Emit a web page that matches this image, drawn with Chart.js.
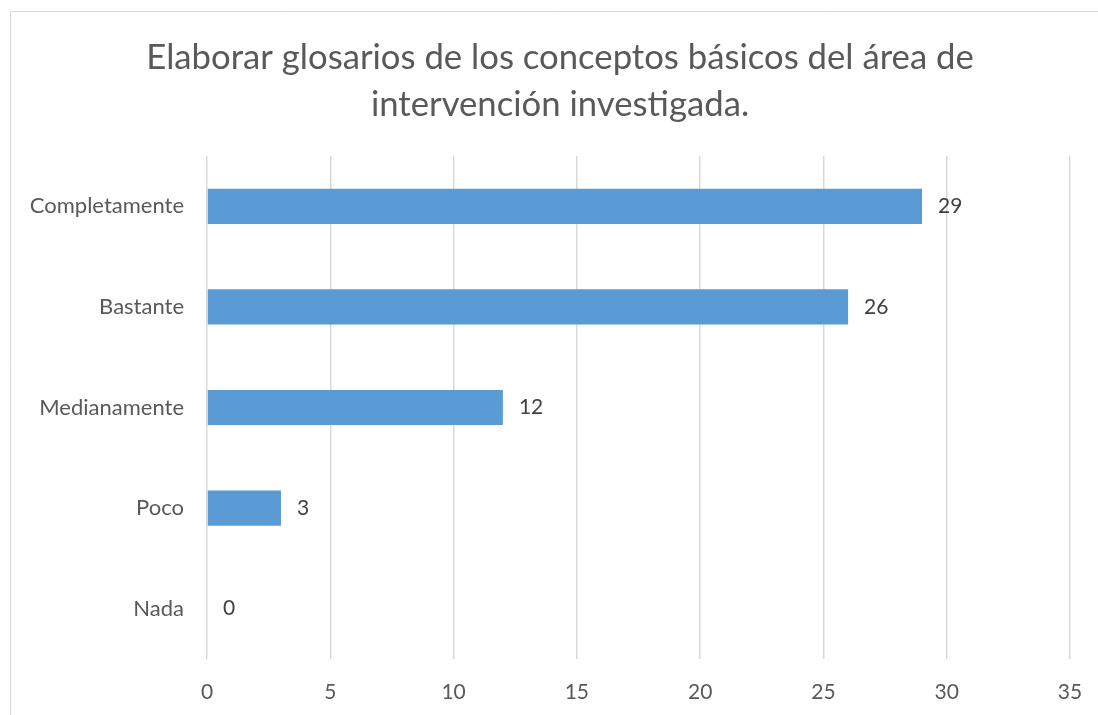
<!DOCTYPE html>
<html><head><meta charset="utf-8">
<script src="https://cdn.jsdelivr.net/npm/chart.js@4.4.1/dist/chart.umd.min.js"></script>
<style>html,body{margin:0;padding:0;background:#fff;}#wrap{width:1098px;height:715px;position:relative;}</style>
</head><body><div id="wrap"><canvas id="c" width="1098" height="715"></canvas></div>
<script>
const categories = ['Completamente', 'Bastante', 'Medianamente', 'Poco', 'Nada'];
const values = [29, 26, 12, 3, 0];
const xTicks = [0, 5, 10, 15, 20, 25, 30, 35];
const titleLines = ['Elaborar glosarios de los conceptos básicos del área de', 'intervención investigada.'];

const FONT = 'Lato';

const framePlugin = {
  id: 'frame',
  beforeDraw(chart) {
    const ctx = chart.ctx;
    ctx.save();
    ctx.fillStyle = '#fff';
    ctx.fillRect(0, 0, chart.width, chart.height);
    ctx.strokeStyle = '#d9d9d9';
    ctx.lineWidth = 1;
    ctx.beginPath();
    ctx.moveTo(10.5, chart.height);
    ctx.lineTo(10.5, 11.5);
    ctx.lineTo(chart.width, 11.5);
    ctx.stroke();
    ctx.fillStyle = '#595959';
    ctx.font = '34.7px ' + FONT;
    ctx.textAlign = 'center';
    ctx.textBaseline = 'middle';
    ctx.fillText(titleLines[0], 560, 58);
    ctx.fillText(titleLines[1], 560, 105);
    ctx.restore();
  }
};

const labelPlugin = {
  id: 'vals',
  afterDatasetsDraw(chart) {
    const ctx = chart.ctx;
    const meta = chart.getDatasetMeta(0);
    ctx.save();
    ctx.fillStyle = '#404040';
    ctx.font = '21px ' + FONT;
    ctx.textAlign = 'left';
    ctx.textBaseline = 'middle';
    meta.data.forEach((bar, i) => {
      ctx.fillText(String(values[i]), bar.x + 16, bar.y);
    });
    ctx.restore();
  }
};

new Chart(document.getElementById('c'), {
  type: 'bar',
  data: {
    labels: categories,
    datasets: [{
      data: values,
      backgroundColor: '#5b9bd5',
      borderWidth: 0,
      barPercentage: 0.7,
      categoryPercentage: 0.5
    }]
  },
  options: {
    indexAxis: 'y',
    responsive: false,
    animation: false,
    devicePixelRatio: 1,
    layout: { padding: { left: 0, right: 28, top: 156, bottom: 0 } },
    plugins: { legend: { display: false }, tooltip: { enabled: false }, title: { display: false } },
    scales: {
      x: {
        min: 0, max: 35,
        afterBuildTicks(scale) { scale.ticks = xTicks.map(v => ({ value: v })); },
        afterFit(scale) { scale.height = 715 - 659; scale.paddingRight = 0; scale.paddingLeft = 0; },
        grid: { color: '#d9d9d9', lineWidth: 1.5, drawTicks: false },
        border: { display: false },
        ticks: { color: '#595959', font: { family: FONT, size: 21 }, padding: 21 }
      },
      y: {
        afterFit(scale) { scale.width = 207; scale.paddingTop = 0; scale.paddingBottom = 0; },
        grid: { display: false },
        border: { display: false },
        ticks: { color: '#595959', font: { family: FONT, size: 22 }, padding: 15 }
      }
    }
  },
  plugins: [framePlugin, labelPlugin]
});
</script></body></html>
